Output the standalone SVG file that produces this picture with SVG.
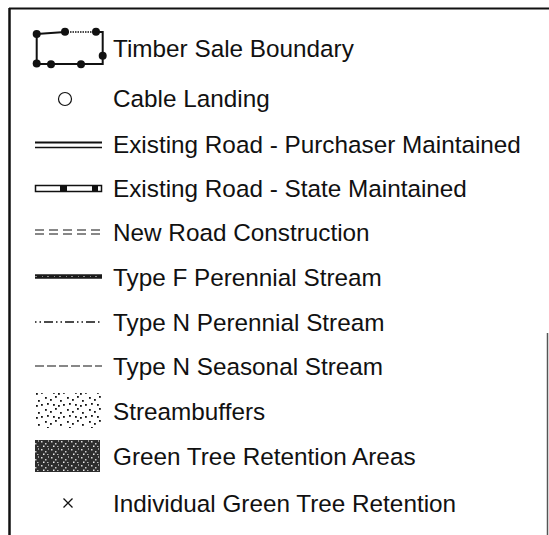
<svg xmlns="http://www.w3.org/2000/svg" width="549" height="535" viewBox="0 0 549 535">
<style>
text{font-family:"Liberation Sans",Arial,sans-serif;font-size:24.3px;fill:#111}
.ln{fill:none;stroke:#111}
.dot{fill:#111}
</style>
<defs>
<pattern id="sb" width="22" height="12" patternUnits="userSpaceOnUse">
<rect x="1" y="1" width="1.8" height="1.8" fill="#111"/><rect x="6" y="3" width="1.8" height="1.8" fill="#111"/><rect x="11" y="0" width="1.8" height="1.8" fill="#111"/><rect x="16" y="4" width="1.8" height="1.8" fill="#111"/><rect x="3" y="7" width="1.8" height="1.8" fill="#111"/><rect x="9" y="8" width="1.8" height="1.8" fill="#111"/><rect x="14" y="9" width="1.8" height="1.8" fill="#111"/><rect x="19" y="8" width="1.8" height="1.8" fill="#111"/>
</pattern>
<pattern id="gt" width="10" height="8" patternUnits="userSpaceOnUse">
<rect width="10" height="8" fill="#2e2e2e"/><rect x="1" y="1" width="1.5" height="1.5" fill="#ddd"/><rect x="5" y="3" width="1.5" height="1.5" fill="#ccc"/><rect x="8" y="0" width="1" height="2" fill="#999"/><rect x="3" y="5.5" width="1.5" height="1.5" fill="#eee"/><rect x="7" y="6" width="1.5" height="1" fill="#bbb"/>
</pattern>
</defs>
<g id="frame" class="ln">
<line x1="9" y1="8.5" x2="549" y2="8.5" stroke-width="2.2"/>
<line x1="9.5" y1="8" x2="9.5" y2="535" stroke-width="2.5"/>
<line x1="547.5" y1="333" x2="547.5" y2="535" stroke="#555" stroke-width="1.5"/>
</g>
<g id="boundary">
<polyline class="ln" stroke-width="2" points="36.7,34 65,32"/>
<line class="ln" x1="65" y1="32" x2="96" y2="32" stroke-width="1.5" stroke-dasharray="1.5 1"/>
<polyline class="ln" stroke-width="2" points="96,32 102.7,32 102.7,64 36.7,64 36.7,34"/>
<circle class="dot" cx="36.7" cy="34" r="4"/><circle class="dot" cx="65" cy="31.7" r="4"/><circle class="dot" cx="96" cy="31.7" r="4"/><circle class="dot" cx="102.7" cy="55.7" r="4"/><circle class="dot" cx="36.7" cy="63.5" r="4"/><circle class="dot" cx="51" cy="64.3" r="4"/><circle class="dot" cx="81" cy="64.3" r="4"/>
<text x="113" y="57">Timber Sale Boundary</text>
</g>
<g id="cable">
<circle class="ln" cx="65" cy="99" r="6.5" stroke-width="1.2"/>
<text x="113" y="107">Cable Landing</text>
</g>
<g id="purchaser">
<line class="ln" x1="35" y1="142.5" x2="102" y2="142.5" stroke-width="1.8"/>
<line class="ln" x1="35" y1="147.5" x2="102" y2="147.5" stroke-width="1.5"/>
<text x="113" y="153">Existing Road - Purchaser Maintained</text>
</g>
<g id="state">
<rect class="ln" x="35.5" y="185.5" width="66" height="6" stroke-width="1.5"/>
<rect x="60" y="186" width="7" height="5" fill="#111"/>
<rect x="92" y="186" width="6" height="5" fill="#111"/>
<text x="113" y="197">Existing Road - State Maintained</text>
</g>
<g id="newroad">
<line class="ln" x1="35" y1="230" x2="102" y2="230" stroke-width="1" stroke-dasharray="9 5"/>
<line class="ln" x1="35" y1="234" x2="102" y2="234" stroke-width="1" stroke-dasharray="9 5"/>
<text x="113" y="241">New Road Construction</text>
</g>
<g id="typef">
<line x1="35" y1="276.5" x2="102" y2="276.5" stroke="#1a1a1a" stroke-width="4.5"/>
<line x1="35" y1="276.5" x2="102" y2="276.5" stroke="#888" stroke-width="1" stroke-dasharray="2 5 1 4"/>
<text x="113" y="286">Type F Perennial Stream</text>
</g>
<g id="typenp">
<line class="ln" x1="35" y1="322" x2="102" y2="322" stroke-width="1.3" stroke-dasharray="1.5 3 1.5 3 9 3"/>
<text x="113" y="331">Type N Perennial Stream</text>
</g>
<g id="typens">
<line class="ln" x1="35" y1="366" x2="102" y2="366" stroke-width="1.2" stroke-dasharray="9 3"/>
<text x="113" y="375">Type N Seasonal Stream</text>
</g>
<g id="streambuffers">
<rect x="35" y="393" width="67" height="35" fill="url(#sb)"/>
<text x="113" y="420">Streambuffers</text>
</g>
<g id="greentree">
<rect x="35" y="440" width="65" height="32" fill="url(#gt)"/>
<text x="113" y="465">Green Tree Retention Areas</text>
</g>
<g id="individual">
<path class="ln" d="M63.5 498.5 L72.5 507.5 M72.5 498.5 L63.5 507.5" stroke-width="1.3"/>
<text x="113" y="512">Individual Green Tree Retention</text>
</g>
</svg>
